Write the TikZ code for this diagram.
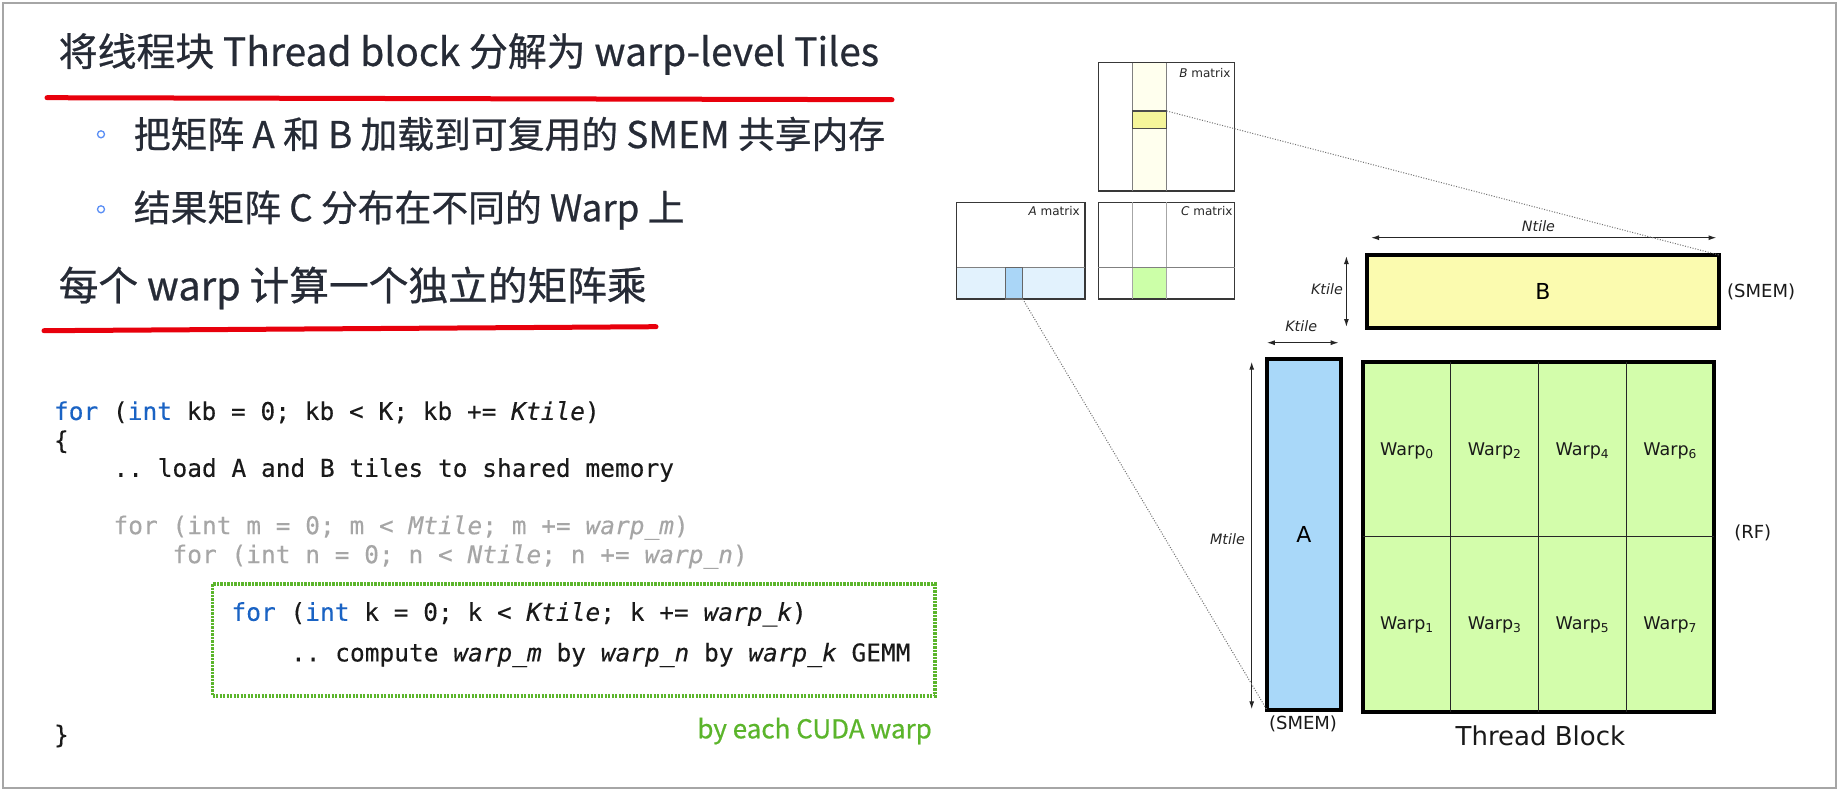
\documentclass[tikz,border=0pt]{standalone}
\usepackage{fontspec}
\setmainfont{DejaVu Sans}
\setmonofont{DejaVu Sans Mono}[FakeBold=0.25]
\newfontfamily\cjk{Noto Sans CJK SC}
\newfontfamily\cjkm{Noto Sans CJK SC}[FakeBold=0.6]
\newfontfamily\dv{DejaVu Sans}
\usetikzlibrary{arrows.meta,calc}
\definecolor{txt}{HTML}{262B36}
\definecolor{redline}{HTML}{E8000C}
\definecolor{bulblue}{HTML}{5B8FF5}
\definecolor{kwblue}{HTML}{1A63C4}
\definecolor{codegray}{HTML}{A6A6A6}
\definecolor{codetxt}{HTML}{1A1A1A}
\definecolor{cgreen}{HTML}{5BB52B}
\definecolor{byel}{HTML}{FBFBAF}
\definecolor{ablue}{HTML}{A9D8F9}
\definecolor{cfill}{HTML}{D3FDAB}
\definecolor{paleyel}{HTML}{FFFFEE}
\definecolor{hlyel}{HTML}{F5F59A}
\definecolor{bandblue}{HTML}{E2F2FD}
\definecolor{hlblue}{HTML}{AAD6F7}
\definecolor{smgreen}{HTML}{CCFFA8}
\newcommand{\kw}[1]{\textcolor{kwblue}{#1}}
\newcommand{\ii}[1]{\textit{#1}}
\begin{document}
\begin{tikzpicture}[x=1pt,y=-1pt,
  title/.style={inner sep=0pt,outer sep=0pt,text=txt},
  bultext/.style={inner sep=0pt,outer sep=0pt,text=txt,font=\cjkm\fontsize{36.8pt}{38pt}\selectfont},
  bul/.style={circle,draw=bulblue,line width=1.3pt,minimum size=7pt,inner sep=0pt},
  redl/.style={draw=redline,line width=5pt,line cap=round},
  code/.style={inner sep=0pt,outer sep=0pt,text=codetxt,font=\ttfamily\fontsize{24.5pt}{28pt}\selectfont},
  gcode/.style={code,text=codegray},
  bigbox/.style={draw=black,line width=4pt,inner sep=0pt,outer sep=0pt,anchor=north west},
  smbox/.style={draw=black!78,line width=1.5pt,inner sep=0pt,outer sep=0pt,anchor=north west},
  smline/.style={draw=black!50,line width=1.2pt},
  hl/.style={draw=black!70,line width=1.3pt,inner sep=0pt,outer sep=0pt,anchor=north west},
  smlab/.style={inner sep=0pt,text=black!85,font=\dv\fontsize{12pt}{14pt}\selectfont},
  dimlab/.style={inner sep=0pt,text=black!85,font=\dv\itshape\fontsize{14.3pt}{16pt}\selectfont},
  dim/.style={draw=black!85,line width=1.2pt,{Latex[length=8pt,width=5pt]}-{Latex[length=8pt,width=5pt]}},
  conn/.style={draw=black!55,line width=1pt,dash pattern=on 1pt off 1.6pt},
  grid/.style={draw=black!85,line width=1.3pt},
  warp/.style={inner sep=0pt,text=black!90,font=\dv\fontsize{17.5pt}{19pt}\selectfont},
  memlab/.style={inner sep=0pt,text=black!90,font=\dv\fontsize{18pt}{20pt}\selectfont}]
\useasboundingbox (0,0) rectangle (1840,792);
\fill[white] (0,0) rectangle (1840,792);
\draw[black!35,line width=1.5pt] (3,3) rectangle (1836,788);
% ---------- left text ----------
\node[title,font=\cjkm\fontsize{38.9pt}{40pt}\selectfont,anchor=west] (t1) at (58.7,54) {将线程块 Thread block 分解为 warp-level Tiles};
\coordinate (r1a) at (47,97.7);
\coordinate (r1b) at (892,99.7);
\draw[redl] (r1a) -- (r1b);
\node[bul] (b1) at (101,134.3) {};
\node[bultext,anchor=west] (bt1) at (133.8,134) {把矩阵 A 和 B 加载到可复用的 SMEM 共享内存};
\node[bul] (b2) at (101,209.3) {};
\node[bultext,anchor=west] (bt2) at (133.8,210) {结果矩阵 C 分布在不同的 Warp 上};
\node[title,font=\cjkm\fontsize{39.7pt}{41pt}\selectfont,anchor=west] (t2) at (58.7,288) {每个 warp 计算一个独立的矩阵乘};
\coordinate (r2a) at (44,330.7);
\coordinate (r2b) at (656,326.7);
\draw[redl] (r2a) -- (r2b);
% ---------- code ----------
\node[code,anchor=west] (c1) at (54,412.3) {\vphantom{(}\kw{for} (\kw{int} kb = 0; kb < K; kb += \ii{Ktile})};
\node[code,anchor=west] (c2) at (54,441.7) {\vphantom{(}\{};
\node[code,anchor=west] (c3) at (113.5,470) {\vphantom{(}.. load A and B tiles to shared memory};
\node[gcode,anchor=west] (c4) at (113.5,527.7) {\vphantom{(}for (int m = 0; m < \ii{Mtile}; m += \ii{warp\_m})};
\node[gcode,anchor=west] (c5) at (172.5,556.7) {\vphantom{(}for (int n = 0; n < \ii{Ntile}; n += \ii{warp\_n})};
\node[draw=cgreen,line width=3.2pt,dash pattern=on 2.2pt off 1.3pt,inner sep=0pt,outer sep=0pt,
      minimum width=722.5pt,minimum height=112pt,anchor=north west] (gbox) at (212.5,584) {};
\node[code,anchor=west] (c6) at (231.5,614.3) {\vphantom{(}\kw{for} (\kw{int} k = 0; k < \ii{Ktile}; k += \ii{warp\_k})};
\node[code,anchor=west] (c7) at (291,655) {\vphantom{(}.. compute \ii{warp\_m} by \ii{warp\_n} by \ii{warp\_k} GEMM};
\node[code,anchor=west] (c8) at (54,736) {\vphantom{(}\}};
\node[inner sep=0pt,text=cgreen,font=\cjkm\fontsize{26pt}{30pt}\selectfont,anchor=east] (each) at (932,731) {by each CUDA warp};
% ---------- small matrices ----------
\fill[paleyel] (1132.7,62.7) rectangle (1166.7,191);
\node[smbox,minimum width=136.4pt,minimum height=128.3pt] (smB) at (1098.3,62.7) {};
\draw[smline] (1132.7,62.7) -- (1132.7,191);
\draw[smline] (1166.7,62.7) -- (1166.7,191);
\node[hl,fill=hlyel,minimum width=34pt,minimum height=17.3pt] (bhl) at (1132.7,111) {};
\node[smlab,anchor=east] (lbB) at ($(smB.north east)+(-4,10)$) {\textit{B} matrix};
\fill[bandblue] (956.7,267.3) rectangle (1085,299);
\node[smbox,minimum width=128.3pt,minimum height=96.7pt] (smA) at (956.7,202.3) {};
\draw[smline] (956.7,267.3) -- (1085,267.3);
\node[hl,draw=black!60,fill=hlblue,minimum width=17pt,minimum height=31.7pt] (ahl) at (1005.7,267.3) {};
\node[smlab,anchor=east] (lbA) at ($(smA.north east)+(-5,9)$) {\textit{A} matrix};
\fill[smgreen] (1132.7,267.3) rectangle (1166.7,299);
\node[smbox,minimum width=136.4pt,minimum height=96.7pt] (smC) at (1098.3,202.3) {};
\draw[smline,draw=black!35] (1132.7,202.3) -- (1132.7,299);
\draw[smline,draw=black!35] (1166.7,202.3) -- (1166.7,299);
\draw[smline] (1098.3,267.3) -- (1234.7,267.3);
\node[smlab,anchor=east] (lbC) at ($(smC.north east)+(-2,9)$) {\textit{C} matrix};
% ---------- big blocks ----------
\node[bigbox,fill=byel,minimum width=352pt,minimum height=73.3pt,font=\dv\fontsize{22pt}{24pt}\selectfont] (bigB) at (1367,255) {B};
\node[bigbox,fill=ablue,minimum width=74pt,minimum height=350.7pt,font=\dv\fontsize{22pt}{24pt}\selectfont] (bigA) at (1267,359.3) {A};
\node[bigbox,fill=cfill,minimum width=351pt,minimum height=350pt] (bigC) at (1363,361.7) {};
\foreach \i in {1,2,3}
  \draw[grid] ($(bigC.north west)!\i/4!(bigC.north east)$) -- ($(bigC.south west)!\i/4!(bigC.south east)$);
\draw[grid] (bigC.west) -- (bigC.east);
\foreach \c in {0,1,2,3}{
  \pgfmathtruncatemacro{\top}{2*\c}
  \pgfmathtruncatemacro{\bot}{2*\c+1}
  \node[warp] (w\top) at ($(bigC.north west)!{(2*\c+1)/8}!(bigC.north east)+(0,89)$) {Warp\textsubscript{\top}};
  \node[warp] (w\bot) at ($(bigC.north west)!{(2*\c+1)/8}!(bigC.north east)+(0,263)$) {Warp\textsubscript{\bot}};
}
\node[memlab,anchor=west] (smemB) at (1727,291.7) {(SMEM)};
\node[memlab] (smemA) at (1303,724) {(SMEM)};
\node[memlab] (rf) at (1752.8,533.3) {(RF)};
\node[inner sep=0pt,text=black!90,font=\dv\fontsize{26pt}{28pt}\selectfont] (tb) at (1540.4,736) {Thread Block};
% dimension arrows
\coordinate (n1) at (1371,237.7);
\coordinate (n2) at (1716.5,237.7);
\draw[dim] (n1) -- (n2);
\node[dimlab] (ntile) at (1538.5,226) {Ntile};
\coordinate (kv1) at (1346.4,256);
\coordinate (kv2) at (1346.4,327);
\draw[dim] (kv1) -- (kv2);
\node[dimlab,anchor=east] (ktv) at (1343,289.3) {Ktile};
\coordinate (kh1) at (1266.8,342.7);
\coordinate (kh2) at (1338.7,342.7);
\draw[dim] (kh1) -- (kh2);
\node[dimlab] (kth) at (1301.2,326.5) {Ktile};
\coordinate (m1) at (1251.7,361.7);
\coordinate (m2) at (1251.7,709.3);
\draw[dim] (m1) -- (m2);
\node[dimlab,anchor=east] (mt) at (1245,539) {Mtile};
% dotted connectors
\draw[conn] (bhl.north east) -- (bigB.north east);
\draw[conn] (ahl.south east) -- (bigA.south west);
\end{tikzpicture}
\end{document}
